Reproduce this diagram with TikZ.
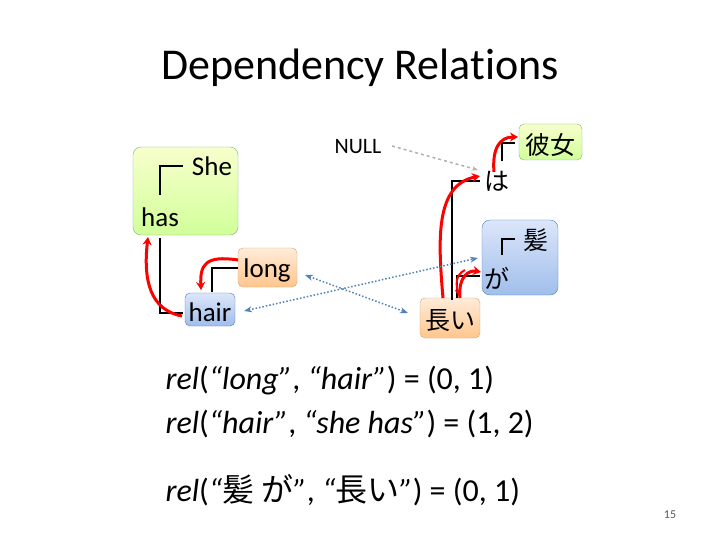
\documentclass[tikz,border=0pt]{standalone}
\usepackage{fontspec}
\setmainfont{Carlito}[Ligatures=NoCommon]
\newfontfamily\cjk{Noto Sans CJK JP}
\usetikzlibrary{arrows.meta}
\definecolor{steel}{RGB}{79,129,189}
\definecolor{bluetop}{RGB}{220,230,250}
\definecolor{bluebot}{RGB}{160,190,235}
\begin{document}
\begin{tikzpicture}[x=1pt,y=-1pt,
 tr/.style={line width=1.8pt,black},
 dep/.style={red,line width=3pt,-{Stealth[length=8pt,width=9pt]}},
 rel/.style={draw=steel,line width=1.5pt,dotted,{Stealth[length=8pt]}-{Stealth[length=8pt]}},
 w/.style={font=\fontsize{27}{27}\selectfont,inner sep=1pt},
 j/.style={font=\cjk\fontsize{25}{25}\selectfont,inner sep=1pt}]
\useasboundingbox (0,0) rectangle (720,540);
\fill[white] (0,0) rectangle (720,540);
\node[font=\fontsize{44}{44}\selectfont] (title) at (360,68) {Dependency Relations};
% boxes
\shade[top color=green!15!yellow!20,bottom color=green!45!yellow!40,rounded corners=8pt,draw=green!40!black!50] (133,147) rectangle (238,235);
\shade[top color=orange!15,bottom color=orange!45,rounded corners=5pt,draw=orange!60!black!50] (238,248) rectangle (297,287);
\shade[top color=bluetop,bottom color=bluebot,rounded corners=5pt,draw=steel] (185,293) rectangle (235,326);
\shade[top color=orange!15,bottom color=orange!45,rounded corners=5pt,draw=orange!60!black!50] (420,298) rectangle (480,338);
\shade[top color=bluetop,bottom color=bluebot,rounded corners=8pt,draw=steel] (482,220) rectangle (558,295);
\shade[top color=green!15!yellow!20,bottom color=green!45!yellow!40,rounded corners=5pt,draw=green!40!black!50] (519,124) rectangle (582,160);
% words
\node[w] (she) at (212,166) {She};
\node[w] (has) at (160,217) {has};
\node[w] (long) at (267,270) {long};
\node[w] (hair) at (210,312) {hair};
\node[font=\fontsize{22}{22}\selectfont,inner sep=1pt] (null) at (358,147) {NULL};
\node[j] (ha) at (497,181) {は};
\node[j] (kanojo) at (550,145) {彼女};
\node[j] (kami) at (536,240) {髪};
\node[j] (ga) at (497,278) {が};
\node[j] (nagai) at (450,321) {長い};
% trees
\draw[tr] (160,195) -- (160,166) -- (183,166);
\draw[tr] (160,238) -- (160,313) -- (183,313);
\draw[tr] (212,292) -- (212,268) -- (238,268);
\draw[tr] (452,300) -- (452,181) -- (480,181);
\draw[tr] (457,298) -- (457,276) -- (480,276);
\draw[tr] (502,161) -- (502,143) -- (515,143);
\draw[tr] (502,255) -- (502,239) -- (515,239);
% deps
\draw[dep] (182,316) .. controls (150,310) and (143,280) .. (148,237);
\draw[dep] (238,260) .. controls (205,255) and (200,265) .. (201,290);
\draw[dep] (443,298) .. controls (438,240) and (435,185) .. (480,176);
\draw[dep] (460,298) .. controls (458,275) and (470,270) .. (481,272);
\draw[red,line width=2pt,-{Stealth[length=7pt]}] (465,270) .. controls (455,275) and (456,285) .. (459,296);
\draw[dep] (494,172) .. controls (492,148) and (500,137) .. (518,137);
% rels
\draw[rel] (305,275) -- (408,313);
\draw[rel] (244,311) -- (478,258);
\draw[gray!60,line width=1.5pt,dashed,-{Stealth[length=6pt]}] (392,146) -- (478,170);
% text
\node[anchor=west,font=\fontsize{32}{32}\selectfont] (t1) at (162,381) {\textit{rel}(\textit{“long”}, \textit{“hair”}) = (0, 1)};
\node[anchor=west,font=\fontsize{32}{32}\selectfont] (t2) at (162,424) {\textit{rel}(\textit{“hair”}, \textit{“she has”}) = (1, 2)};
\node[anchor=west,font=\fontsize{32}{32}\selectfont] (t3) at (162,490) {\textit{rel}(\textit{“}{\cjk 髪 が}\textit{”}, \textit{“}{\cjk 長い}\textit{”}) = (0, 1)};
\node[font=\fontsize{12}{12}\selectfont,gray!70!black] (pg) at (670,515) {15};
\end{tikzpicture}
\end{document}
